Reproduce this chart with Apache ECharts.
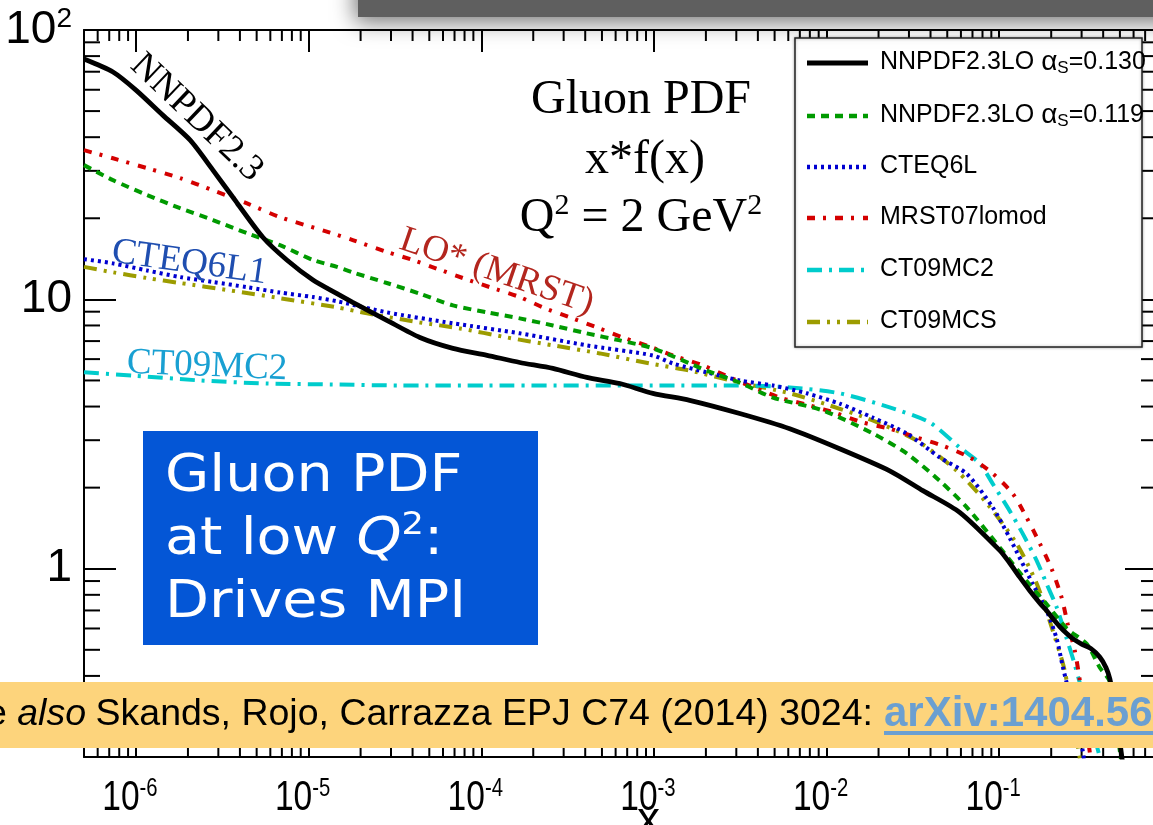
<!DOCTYPE html>
<html><head><meta charset="utf-8">
<script src="https://cdn.jsdelivr.net/npm/echarts@6/dist/echarts.min.js"></script>
<style>html,body{margin:0;padding:0;background:#fff;overflow:hidden}#c{width:1153px;height:825px}</style>
</head><body><div id="c"></div>
<script>
// ---- axis ranges & tick labels ----
const X_MIN = 5e-7, X_MAX = 0.82, Y_MIN = 0.2, Y_MAX = 100;
const xTickExponents = [-6, -5, -4, -3, -2, -1];
const yTickLabels = { '100': ['10', '2'], '10': ['10', ''], '1': ['1', ''] };

// ---- series values [x, x*f(x)] ----
const nnpdf130 = [[5e-7,78],[7.36e-7,69.8],[1e-6,59.8],[1.43e-6,48.3],[2.06e-6,39.0],[2.79e-6,30.2],[3.85e-6,22.8],[5.43e-6,17.0],[7.48e-6,14.0],[1.06e-5,11.8],[1.46e-5,10.5],[1.8e-5,9.75],[2.84e-5,8.36],[4.41e-5,7.22],[6.85e-5,6.58],[1.08e-4,6.2],[1.67e-4,5.83],[2.6e-4,5.54],[4.08e-4,5.13],[6.35e-4,4.87],[9.86e-4,4.48],[1.61e-3,4.22],[3.14e-3,3.77],[6.12e-3,3.31],[0.0119,2.79],[0.0232,2.31],[0.0361,1.95],[0.059,1.62],[0.1007,1.17],[0.115,1.05],[0.1315,0.93],[0.150,0.83],[0.172,0.745],[0.188,0.70],[0.204,0.655],[0.224,0.61],[0.246,0.575],[0.267,0.55],[0.30,0.525],[0.34,0.505],[0.382,0.47],[0.415,0.43],[0.437,0.39],[0.473,0.296],[0.513,0.2],[0.53,0.17]];
const nnpdf119 = [[5e-7,31.5],[7.36e-7,27.7],[1.16e-6,24.4],[1.8e-6,21.8],[2.79e-6,19.7],[4.4e-6,17.6],[6.82e-6,15.9],[1.06e-5,14.0],[1.46e-5,13.2],[1.8e-5,12.6],[2.84e-5,11.5],[4.41e-5,10.5],[6.85e-5,9.5],[1.08e-4,8.95],[1.67e-4,8.5],[2.6e-4,8.0],[4.08e-4,7.48],[6.35e-4,7.04],[9.86e-4,6.58],[2.02e-3,5.44],[3.14e-3,4.91],[4.88e-3,4.32],[9.5e-3,3.87],[0.0185,3.18],[0.0291,2.68],[0.0452,2.12],[0.0649,1.69],[0.1007,1.2],[0.144,0.90],[0.188,0.74],[0.246,0.60],[0.321,0.526],[0.382,0.43],[0.437,0.38],[0.505,0.2],[0.52,0.17]];
const cteq6l = [[5e-7,14.1],[7.36e-7,13.6],[1.16e-6,12.8],[1.8e-6,12.1],[2.79e-6,11.6],[4.4e-6,11.1],[6.82e-6,10.6],[1.06e-5,10.2],[1.46e-5,9.84],[2.84e-5,8.95],[6.85e-5,8.15],[1.67e-4,7.48],[4.08e-4,6.75],[9.86e-4,6.19],[1.29e-3,5.78],[2.02e-3,5.36],[3.14e-3,5.0],[4.88e-3,4.79],[7.67e-3,4.48],[0.0119,4.10],[0.0185,3.64],[0.0291,3.18],[0.0452,2.59],[0.0649,2.25],[0.0916,1.69],[0.115,1.30],[0.156,0.88],[0.188,0.70],[0.215,0.55],[0.233,0.435],[0.305,0.21],[0.315,0.17]];
const mrst07 = [[5e-7,35.8],[7.36e-7,33.4],[1.16e-6,30.7],[1.8e-6,28.2],[2.79e-6,25.4],[4.4e-6,22.7],[6.82e-6,20.2],[1.33e-5,17.7],[1.8e-5,16.6],[2.84e-5,15.0],[4.02e-5,14.0],[5.53e-5,13.0],[7.82e-5,12.0],[1.12e-4,11.1],[1.67e-4,10.2],[2.28e-4,9.33],[3.26e-4,8.57],[4.67e-4,7.87],[6.61e-4,7.22],[9.46e-4,6.68],[1.29e-3,6.19],[1.92e-3,5.69],[2.75e-3,5.13],[5.36e-3,4.32],[8.0e-3,4.04],[0.0115,3.77],[0.0162,3.49],[0.0232,3.31],[0.0333,3.07],[0.0471,2.86],[0.0675,2.59],[0.0916,2.26],[0.1197,1.90],[0.144,1.55],[0.172,1.24],[0.201,1.0],[0.230,0.78],[0.249,0.625],[0.274,0.496],[0.292,0.39],[0.334,0.21],[0.345,0.17]];
const ct09mc2 = [[5e-7,5.36],[9.6e-7,5.21],[2.35e-6,5.0],[5.74e-6,4.87],[1.38e-5,4.83],[3.38e-5,4.79],[1.08e-4,4.79],[9.86e-4,4.79],[3.14e-3,4.79],[6.12e-3,4.71],[0.0119,4.48],[0.0232,3.97],[0.0396,3.49],[0.059,2.82],[0.0771,2.46],[0.0916,2.07],[0.115,1.64],[0.1368,1.35],[0.165,1.07],[0.188,0.88],[0.215,0.72],[0.246,0.55],[0.274,0.44],[0.382,0.2],[0.40,0.17]];
const ct09mcs = [[5e-7,13.2],[7.36e-7,12.6],[1.16e-6,12.0],[1.8e-6,11.5],[3.5e-6,10.8],[6.82e-6,10.1],[1.46e-5,9.34],[2.18e-5,8.87],[4.41e-5,8.21],[7.52e-5,7.8],[1.41e-4,7.22],[2.6e-4,6.75],[4.86e-4,6.3],[9.46e-4,5.78],[1.61e-3,5.44],[3.14e-3,4.91],[6.12e-3,4.48],[0.0104,4.04],[0.0185,3.55],[0.0333,2.99],[0.0568,2.31],[0.0847,1.75],[0.126,1.24],[0.165,0.88],[0.204,0.59],[0.239,0.42],[0.292,0.2],[0.30,0.17]];

const seriesNames = ['NNPDF2.3LO \u03b1S=0.130','NNPDF2.3LO \u03b1S=0.119','CTEQ6L','MRST07lomod','CT09MC2','CT09MCS'];

// minor tick values (2..9 x 10^n) inside the axis ranges
const xMinorTicks = [];
for (let e = -7; e <= -1; e++) for (let k = 2; k <= 9; k++) { const v = k * Math.pow(10, e); if (v > X_MIN && v < X_MAX) xMinorTicks.push(+v.toPrecision(3)); }
const yMinorTicks = [];
for (let e = -1; e <= 1; e++) for (let k = 2; k <= 9; k++) { const v = k * Math.pow(10, e); if (v > Y_MIN && v < Y_MAX) yMinorTicks.push(+v.toPrecision(3)); }

const SANS = '"Liberation Sans", Arial, Helvetica, sans-serif';
const SERIF = '"Liberation Serif", "Times New Roman", serif';
const BOXF = '"DejaVu Sans", Verdana, sans-serif';

const styles = [
  { color: '#000000', width: 4.8, type: 'solid' },
  { color: '#009a00', width: 4, type: [8, 6] },
  { color: '#0000d0', width: 4, type: [3, 4] },
  { color: '#d40000', width: 4, type: [8, 8, 3, 9] },
  { color: '#00cccc', width: 4, type: [15, 7, 3, 7] },
  { color: '#9c9c00', width: 4, type: [13, 7, 3, 7, 3, 7] }
];
const dataList = [nnpdf130, nnpdf119, cteq6l, mrst07, ct09mc2, ct09mcs];

function isPow10(v) { const l = Math.log10(v); return Math.abs(l - Math.round(l)) < 1e-6; }

const chart = echarts.init(document.getElementById('c'), null, { renderer: 'canvas' });

const lineSeries = dataList.map((d, i) => ({
  name: seriesNames[i], type: 'line', data: d, symbol: 'none', smooth: 0.25,
  lineStyle: { color: styles[i].color, width: styles[i].width, type: styles[i].type, cap: 'butt' },
  z: 10 - i, silent: true
}));

function tickLine(x1, y1, x2, y2) {
  return { type: 'line', shape: { x1, y1, x2, y2 }, style: { stroke: '#000', lineWidth: 2 } };
}
const X_MINOR_LEN = 11, Y_MINOR_LEN = 16;

const minorXSeries = {
  type: 'custom', silent: true, clip: false, z: 3,
  data: xMinorTicks.map(v => [v, Y_MIN]),
  renderItem: (p, api) => {
    const v = api.value(0);
    const b = api.coord([v, Y_MIN]), t = api.coord([v, Y_MAX]);
    return { type: 'group', children: [tickLine(b[0], b[1], b[0], b[1] - X_MINOR_LEN), tickLine(t[0], t[1], t[0], t[1] + X_MINOR_LEN)] };
  }
};
const minorYSeries = {
  type: 'custom', silent: true, clip: false, z: 3,
  data: yMinorTicks.map(v => [X_MIN, v]),
  renderItem: (p, api) => {
    const v = api.value(1);
    const l = api.coord([X_MIN, v]), r = api.coord([X_MAX, v]);
    return { type: 'group', children: [tickLine(l[0], l[1], l[0] + Y_MINOR_LEN, l[1]), tickLine(r[0], r[1], r[0] - Y_MINOR_LEN, r[1])] };
  }
};
// x tick labels (condensed 10^n), positioned through the x axis scale
const xLabelSeries = {
  type: 'custom', silent: true, clip: false, z: 3,
  data: xTickExponents.map(e => [Math.pow(10, e), Y_MIN, e]),
  renderItem: (p, api) => {
    const v = api.value(0), e = api.value(2);
    const b = api.coord([v, Y_MIN]);
    return { type: 'text', x: b[0] - 6, y: b[1] + 41, scaleX: 0.78, scaleY: 1,
      style: { text: '{b|10}{s|' + e + '}', align: 'center', verticalAlign: 'middle',
        rich: { b: { fontSize: 43, fontFamily: SANS, fill: '#000', color: '#000', lineHeight: 44 },
                s: { fontSize: 26, fontFamily: SANS, fill: '#000', color: '#000', verticalAlign: 'top', lineHeight: 26 } } } };
  }
};

const axisLineStyle = { show: true, lineStyle: { color: '#000', width: 2 } };

// legend (drawn as graphic)
const legendRows = [63, 116, 167, 218, 270, 322];
const legendEls = [{ type: 'rect', z: 100, shape: { x: 795, y: 38, width: 347, height: 309 }, style: { fill: '#fff', stroke: '#222', lineWidth: 1.5, shadowBlur: 3, shadowColor: 'rgba(0,0,0,0.3)' } }];
legendRows.forEach((y, i) => {
  legendEls.push({ type: 'line', z: 101, shape: { x1: 807, y1: y, x2: 868, y2: y }, style: { stroke: styles[i].color, lineWidth: i === 0 ? 5 : 4.5, lineDash: styles[i].type === 'solid' ? null : styles[i].type } });
  const name = seriesNames[i];
  const txt = name.indexOf('\u03b1S') >= 0 ? '{n|' + name.split('\u03b1S')[0] + '}{a|\u03b1}{sub|S}{n|' + name.split('\u03b1S')[1] + '}' : '{n|' + name + '}';
  legendEls.push({ type: 'text', z: 101, x: 880, y: y - 1, style: { text: txt, align: 'left', verticalAlign: 'middle',
    rich: { n: { fontSize: 25, fontFamily: SANS, fill: '#000', lineHeight: 30 }, a: { fontSize: 28, fontFamily: SANS, fill: '#000', lineHeight: 30 }, sub: { fontSize: 17, fontFamily: SANS, fill: '#000', verticalAlign: 'bottom', lineHeight: 17 } } } });
});

const graphics = [
  // top grey bar with shadow
  { type: 'rect', z: 120, shape: { x: 358, y: -30, width: 830, height: 47 }, style: { fill: '#5f5f5f', shadowBlur: 22, shadowColor: 'rgba(0,0,0,0.55)', shadowOffsetY: 5, shadowOffsetX: -3 } },
  // title
  { type: 'text', z: 100, x: 641, y: 100, style: { text: 'Gluon PDF', font: '48px ' + SERIF, fill: '#000', align: 'center', verticalAlign: 'middle' } },
  { type: 'text', z: 100, x: 645, y: 160, style: { text: 'x*f(x)', font: '48px ' + SERIF, fill: '#000', align: 'center', verticalAlign: 'middle' } },
  { type: 'text', z: 100, x: 641, y: 218, style: { text: '{m|Q}{s|2}{m| = 2 GeV}{s|2}', align: 'center', verticalAlign: 'middle',
    rich: { m: { fontSize: 48, fontFamily: SERIF, fill: '#000', lineHeight: 54 }, s: { fontSize: 30, fontFamily: SERIF, fill: '#000', verticalAlign: 'top', lineHeight: 36 } } } },
  // curve labels
  { type: 'text', z: 100, x: 136, y: 60, rotation: -0.76, style: { text: 'NNPDF2.3', font: '37px ' + SERIF, fill: '#000', align: 'left', verticalAlign: 'middle' } },
  { type: 'text', z: 100, x: 401, y: 239, rotation: -0.33, style: { text: 'LO* (MRST)', font: '37px ' + SERIF, fill: '#b3261e', align: 'left', verticalAlign: 'middle' } },
  { type: 'text', z: 100, x: 112, y: 252, rotation: -0.14, style: { text: 'CTEQ6L1', font: '37px ' + SERIF, fill: '#1f4eb0', align: 'left', verticalAlign: 'middle' } },
  { type: 'text', z: 100, x: 127, y: 363, rotation: -0.04, style: { text: 'CT09MC2', font: '37px ' + SERIF, fill: '#19a0d2', align: 'left', verticalAlign: 'middle' } },
  // blue box
  { type: 'rect', z: 100, shape: { x: 143, y: 431, width: 395, height: 214 }, style: { fill: '#0456d6' } },
  { type: 'text', z: 101, x: 165, y: 477, scaleX: 1.1, style: { text: 'Gluon PDF', font: '52px ' + BOXF, fill: '#fff', align: 'left', verticalAlign: 'middle' } },
  { type: 'text', z: 101, x: 165, y: 540, scaleX: 1.1, style: { text: '{m|at low }{i|Q}{s|2}{m|:}', align: 'left', verticalAlign: 'middle',
    rich: { m: { fontSize: 52, fontFamily: BOXF, fill: '#fff', lineHeight: 60 }, i: { fontSize: 52, fontFamily: BOXF, fontStyle: 'italic', fill: '#fff', lineHeight: 60 }, s: { fontSize: 32, fontFamily: BOXF, fill: '#fff', verticalAlign: 'top', lineHeight: 40 } } } },
  { type: 'text', z: 101, x: 165, y: 603, scaleX: 1.1, style: { text: 'Drives MPI', font: '52px ' + BOXF, fill: '#fff', align: 'left', verticalAlign: 'middle' } },
  // orange banner
  { type: 'rect', z: 110, shape: { x: 0, y: 682, width: 1153, height: 66 }, style: { fill: '#fdd47c' } },
  { type: 'text', z: 111, x: 86, y: 715, style: { text: '{n|See }{i|also}', align: 'right', verticalAlign: 'middle',
    rich: { n: { fontSize: 37.5, fontFamily: SANS, fill: '#000' }, i: { fontSize: 37.5, fontFamily: SANS, fontStyle: 'italic', fill: '#000' } } } },
  { type: 'text', z: 111, x: 873, y: 715, style: { text: 'Skands, Rojo, Carrazza EPJ C74 (2014) 3024:', font: '37.5px ' + SANS, fill: '#000', align: 'right', verticalAlign: 'middle' } },
  { type: 'text', z: 111, x: 884, y: 714, style: { text: 'arXiv:1404.5630', font: 'bold 42px ' + SANS, fill: '#6b9fd1', align: 'left', verticalAlign: 'middle' } },
  { type: 'rect', z: 111, shape: { x: 884, y: 731, width: 300, height: 4 }, style: { fill: '#6b9fd1' } }
].concat(legendEls);

const option = {
  animation: false,
  backgroundColor: '#ffffff',
  grid: { left: 84, right: -4, top: 30, bottom: 68, containLabel: false, outerBoundsMode: 'none' },
  xAxis: [
    { type: 'log', min: X_MIN, max: X_MAX, position: 'bottom', name: 'x', nameLocation: 'middle', nameGap: 41, nameMoveOverlap: false,
      nameTextStyle: { fontSize: 46, fontFamily: SANS, color: '#000', padding: [0, 0, 0, 56] },
      axisLine: axisLineStyle, splitLine: { show: false },
      axisTick: { show: true, inside: true, length: 22, lineStyle: { color: '#000', width: 2 } },
      axisLabel: { show: false } },
    { type: 'log', min: X_MIN, max: X_MAX, position: 'top',
      axisLine: axisLineStyle, splitLine: { show: false },
      axisTick: { show: true, inside: true, length: 22, lineStyle: { color: '#000', width: 2 } },
      axisLabel: { show: false } }
  ],
  yAxis: [
    { type: 'log', min: Y_MIN, max: Y_MAX, position: 'left',
      axisLine: axisLineStyle, splitLine: { show: false },
      axisTick: { show: true, inside: true, length: 32, lineStyle: { color: '#000', width: 2 } },
      axisLabel: { margin: 12, formatter: v => { const k = String(Math.round(v)); if (!isPow10(v) || !yTickLabels[k]) return ''; const t = yTickLabels[k]; return '{b|' + t[0] + '}' + (t[1] ? '{s|' + t[1] + '}' : ''); },
        rich: { b: { fontSize: 46, fontFamily: SANS, color: '#000', lineHeight: 50 }, s: { fontSize: 28, fontFamily: SANS, color: '#000', verticalAlign: 'top', lineHeight: 28 } } } },
    { type: 'log', min: Y_MIN, max: Y_MAX, position: 'right',
      axisLine: axisLineStyle, splitLine: { show: false },
      axisTick: { show: true, inside: true, length: 32, lineStyle: { color: '#000', width: 2 } },
      axisLabel: { show: false } }
  ],
  series: lineSeries.concat([minorXSeries, minorYSeries, xLabelSeries]),
  graphic: { elements: graphics }
};
chart.setOption(option);
</script>
</body></html>
